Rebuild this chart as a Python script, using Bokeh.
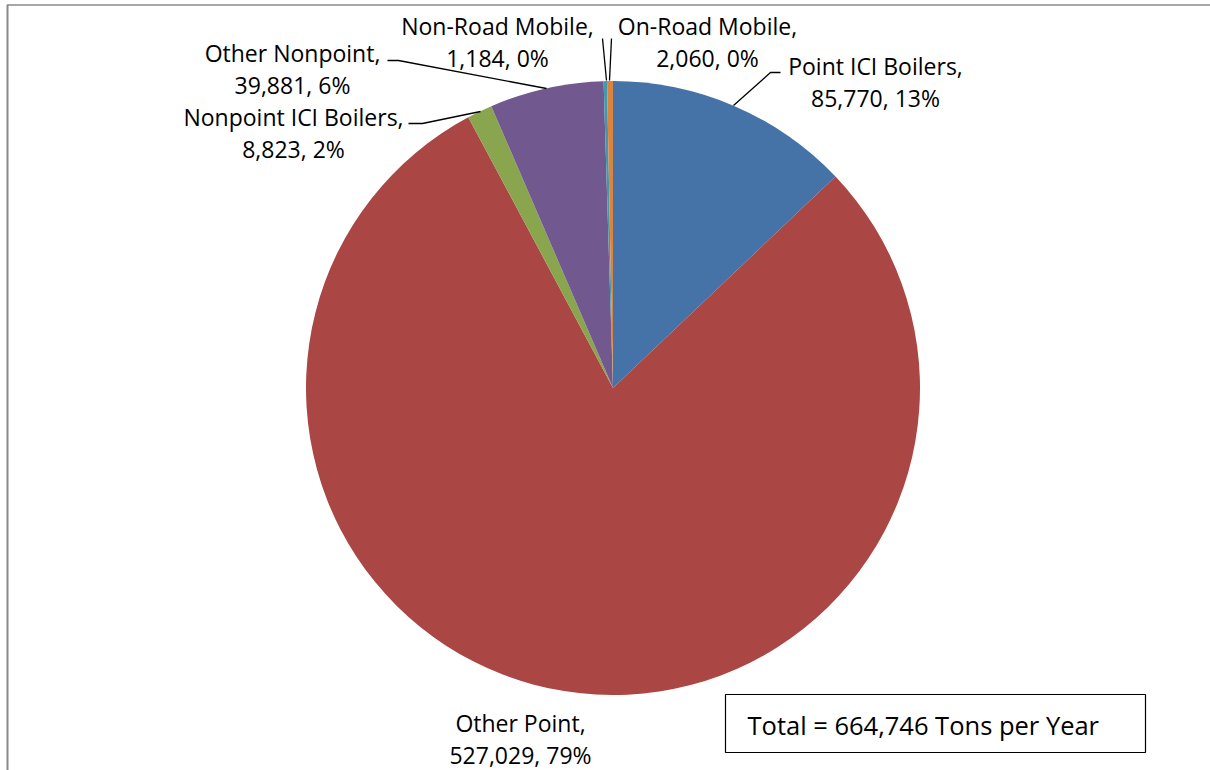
import numpy as np
from bokeh.plotting import figure
from bokeh.models import Range1d, ColumnDataSource
from bokeh.core.properties import value
from bokeh.embed import file_html
from bokeh.resources import INLINE

# ---- data ----
categories = ["Point ICI Boilers", "Other Point", "Nonpoint ICI Boilers",
              "Other Nonpoint", "Non-Road Mobile", "On-Road Mobile"]
tons = [85770, 527029, 8823, 39881, 1184, 2060]
pct_labels = [13, 79, 2, 6, 0, 0]
colors = ["#4572A7", "#AA4643", "#89A54E", "#71588F", "#4198AF", "#DB843D"]
total_text = "Total = 664,746 Tons per Year"

W, H = 1210, 770
FONT = value("Open Sans")
FS = "23px"
TDY = -8  # text baseline correction


def Y(sy):
    # reference-image y (from top) -> data y
    return 770 - sy


p = figure(width=W, height=H, x_range=Range1d(0, 1210), y_range=Range1d(0, 770),
           output_backend="svg", toolbar_location=None, min_border=0,
           outline_line_color=None)
p.axis.visible = False
p.grid.visible = False
p.background_fill_color = "white"
p.border_fill_color = "white"

# frame (left and top only visible)
p.line([7, 7], [0, Y(4)], line_color="#8a8a8a", line_width=2)
p.line([7, 1210], [Y(4.5), Y(4.5)], line_color="#8a8a8a", line_width=1.5)

# ---- pie ----
vals = np.array(tons, dtype=float)
frac = np.cumsum(vals) / vals.sum()
starts = np.pi / 2 - 2 * np.pi * np.concatenate([[0.0], frac[:-1]])
ends = np.pi / 2 - 2 * np.pi * frac
src = ColumnDataSource(dict(start=starts, end=ends, color=colors))
cx, cy, R = 612.5, Y(387.5), 307
p.wedge(x=cx, y=cy, radius=R, start_angle="start", end_angle="end",
        direction="clock", fill_color="color", line_color=None, source=src)

# ---- labels ----
label_pos = {
    "Point ICI Boilers": (875, 73),
    "Other Point": (520, 730),
    "Nonpoint ICI Boilers": (293, 124),
    "Other Nonpoint": (292, 60),
    "Non-Road Mobile": (497, 33),
    "On-Road Mobile": (707, 33),
}
lx, ly, lt = [], [], []
for name, t, pc in zip(categories, tons, pct_labels):
    x0, b0 = label_pos[name]
    lx += [x0, x0]
    ly += [Y(b0 + TDY), Y(b0 + 32 + TDY)]
    lt += [f"{name},", f"{t:,}, {pc}%"]
p.text(x=lx, y=ly, text=lt, text_font=FONT, text_font_size=FS,
       text_align="center", text_baseline="alphabetic", text_color="black")

# ---- leader lines ----
leaders = {
    "Point ICI Boilers": [(780, 72), (770, 72), (733, 105)],
    "Other Nonpoint": [(387, 60), (398, 60), (546, 88)],
    "Nonpoint ICI Boilers": [(408, 123), (422, 123), (480, 111)],
    "Non-Road Mobile": [(602, 38), (606, 80)],
    "On-Road Mobile": [(611, 38), (609, 80)],
}
p.multi_line(xs=[[a for a, b in pts] for pts in leaders.values()],
             ys=[[Y(b) for a, b in pts] for pts in leaders.values()],
             line_color="black", line_width=1.3)

# ---- total box ----
p.quad(left=725, right=1145, top=Y(694), bottom=Y(752), fill_color="white",
       line_color="black", line_width=1.2)
p.text(x=[747], y=[Y(732 + TDY)], text=[total_text],
       text_font=FONT, text_font_size="25.5px",
       text_align="left", text_baseline="alphabetic", text_color="black")

open("out.html", "w").write(file_html(p, INLINE))
